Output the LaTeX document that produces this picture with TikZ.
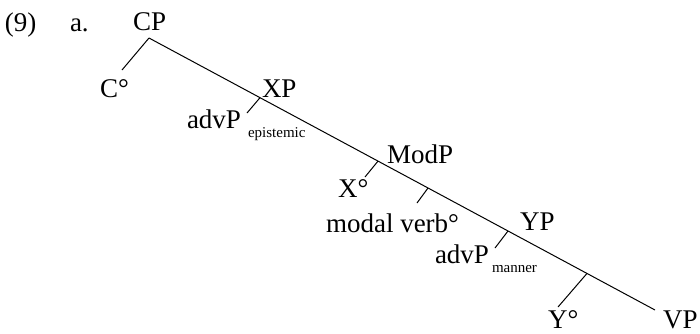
\documentclass[tikz,border=0pt]{standalone}
\usepackage{fontspec}
\setmainfont{Liberation Serif}
\begin{document}
\begin{tikzpicture}[x=1pt,y=1pt,
  lbl/.style={anchor=base west,inner sep=0pt,outer sep=0pt,font=\fontsize{27}{30}\selectfont},
  sub/.style={anchor=base west,inner sep=0pt,outer sep=0pt,font=\fontsize{15}{17}\selectfont},
  branch/.style={line width=1pt}]
\useasboundingbox (0,0) rectangle (700,-333);
% labels
\node[lbl] (ex) at (5,-31) {(9)};
\node[lbl] (a) at (70,-31) {a.};
\node[lbl] (cp) at (133,-30) {CP};
\node[lbl] (c) at (100,-97) {C°};
\node[lbl] (xp) at (262,-97) {XP};
\node[lbl] (adv1) at (187,-128) {advP};
\node[sub] (epi) at (248,-137) {epistemic};
\node[lbl] (modp) at (387,-163) {ModP};
\node[lbl] (x) at (338,-197) {X°};
\node[lbl] (mv) at (326,-232) {modal verb°};
\node[lbl] (yp) at (520,-230) {YP};
\node[lbl] (adv2) at (435,-263) {advP};
\node[sub] (man) at (492,-272) {manner};
\node[lbl] (y) at (548,-328) {Y°};
\node[lbl] (vp) at (663,-328) {VP};
% tree points
\coordinate (top) at (149,-38);
\coordinate (bot) at (655,-310);
\coordinate (ce) at (122,-70);
\coordinate (b1) at (260,-97.7);
\coordinate (e1) at (247,-113);
\coordinate (b2) at (378,-161.1);
\coordinate (e2) at (365,-177);
\coordinate (b3) at (428,-188);
\coordinate (e3) at (417,-203);
\coordinate (b4) at (508,-231);
\coordinate (e4) at (495,-248);
\coordinate (b5) at (587,-273.4);
\coordinate (e5) at (558,-307);
% branches
\draw[branch] (top) -- (bot);
\draw[branch] (top) -- (ce);
\draw[branch] (b1) -- (e1);
\draw[branch] (b2) -- (e2);
\draw[branch] (b3) -- (e3);
\draw[branch] (b4) -- (e4);
\draw[branch] (b5) -- (e5);
\end{tikzpicture}
\end{document}
